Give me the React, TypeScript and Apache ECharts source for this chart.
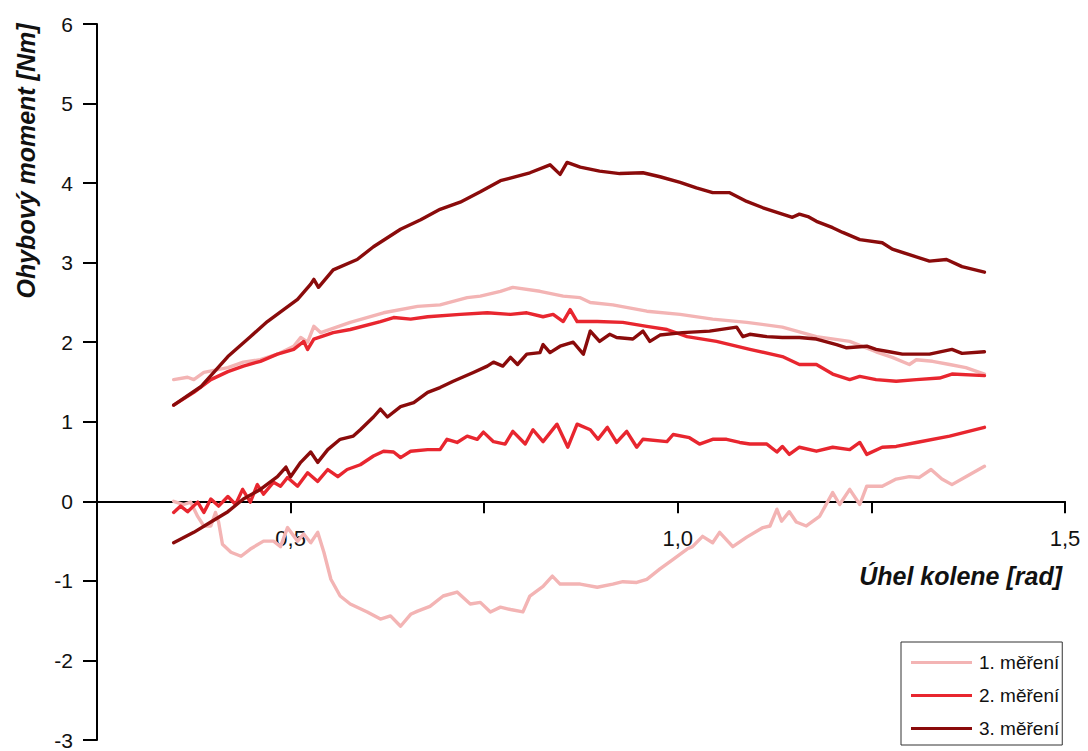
import React, { useEffect, useRef } from "react";
import * as echarts from "echarts";

// ---------- data ----------
const measurementNames = ["1. měření", "2. měření", "3. měření"];
const xLabelledTicks = [0.5, 1.0, 1.5];
const yTicks = [-3, -2, -1, 0, 1, 2, 3, 4, 5, 6];
const xAxisTitle = "Úhel kolene [rad]";
const yAxisTitle = "Ohybový moment [Nm]";

// 1. měření – upper branch
const m1Upper: number[][] = [
  [0.349, 1.53], [0.367, 1.56], [0.375, 1.53], [0.388, 1.62], [0.419, 1.68], [0.439, 1.75],
  [0.461, 1.78], [0.483, 1.85], [0.504, 1.95], [0.513, 2.06], [0.522, 2.0], [0.53, 2.2],
  [0.539, 2.12], [0.577, 2.25], [0.62, 2.37], [0.664, 2.45], [0.693, 2.47], [0.728, 2.56],
  [0.745, 2.58], [0.771, 2.64], [0.787, 2.69], [0.822, 2.64], [0.852, 2.58], [0.874, 2.56],
  [0.887, 2.5], [0.916, 2.47], [0.96, 2.39], [1.003, 2.35], [1.045, 2.29], [1.089, 2.25],
  [1.135, 2.19], [1.179, 2.07], [1.222, 2.01], [1.256, 1.88], [1.277, 1.81], [1.299, 1.72],
  [1.308, 1.78], [1.329, 1.76], [1.351, 1.72], [1.372, 1.68], [1.396, 1.6],
];
// 1. měření – lower branch
const m1Lower: number[][] = [
  [1.396, 0.44], [1.372, 0.31], [1.354, 0.21], [1.341, 0.28], [1.327, 0.4], [1.312, 0.3],
  [1.299, 0.31], [1.282, 0.28], [1.264, 0.19], [1.244, 0.19], [1.235, -0.04], [1.222, 0.15],
  [1.209, -0.04], [1.2, 0.11], [1.183, -0.19], [1.166, -0.31], [1.153, -0.26], [1.144, -0.13],
  [1.134, -0.25], [1.128, -0.1], [1.119, -0.31], [1.11, -0.33], [1.089, -0.45], [1.071, -0.57],
  [1.054, -0.39], [1.045, -0.52], [1.032, -0.44], [1.019, -0.57], [1.012, -0.6], [0.994, -0.73],
  [0.977, -0.85], [0.96, -0.98], [0.947, -1.02], [0.929, -1.01], [0.916, -1.04], [0.896, -1.08],
  [0.874, -1.04], [0.848, -1.04], [0.838, -0.94], [0.826, -1.07], [0.809, -1.19], [0.8, -1.39],
  [0.784, -1.36], [0.771, -1.33], [0.758, -1.39], [0.745, -1.27], [0.732, -1.29], [0.715, -1.14],
  [0.697, -1.19], [0.68, -1.32], [0.664, -1.38], [0.655, -1.42], [0.642, -1.57], [0.629, -1.44],
  [0.616, -1.48], [0.599, -1.39], [0.577, -1.29], [0.564, -1.19], [0.552, -0.98], [0.543, -0.64],
  [0.535, -0.39], [0.526, -0.52], [0.517, -0.41], [0.509, -0.5], [0.496, -0.33], [0.487, -0.57],
  [0.478, -0.5], [0.465, -0.5], [0.448, -0.6], [0.436, -0.69], [0.423, -0.64], [0.412, -0.54],
  [0.407, -0.26], [0.403, -0.14], [0.397, -0.31], [0.388, -0.31], [0.38, -0.19], [0.371, -0.01],
  [0.362, -0.04], [0.349, 0.0],
];

// 2. měření – upper branch
const m2Upper: number[][] = [
  [0.349, 1.21], [0.375, 1.37], [0.397, 1.53], [0.419, 1.63], [0.439, 1.7], [0.461, 1.76],
  [0.483, 1.85], [0.504, 1.91], [0.517, 2.01], [0.522, 1.91], [0.53, 2.04], [0.555, 2.12],
  [0.577, 2.16], [0.616, 2.26], [0.633, 2.31], [0.655, 2.29], [0.677, 2.32], [0.719, 2.35],
  [0.754, 2.37], [0.784, 2.35], [0.805, 2.37], [0.826, 2.32], [0.839, 2.35], [0.852, 2.26],
  [0.861, 2.41], [0.87, 2.26], [0.896, 2.26], [0.929, 2.25], [0.96, 2.2], [0.986, 2.16],
  [1.012, 2.07], [1.05, 2.01], [1.093, 1.91], [1.135, 1.82], [1.157, 1.72], [1.179, 1.72],
  [1.2, 1.6], [1.222, 1.53], [1.235, 1.57], [1.256, 1.53], [1.282, 1.51], [1.308, 1.53],
  [1.338, 1.55], [1.354, 1.6], [1.396, 1.58],
];
// 2. měření – lower branch
const m2Lower: number[][] = [
  [1.396, 0.93], [1.351, 0.82], [1.308, 0.74], [1.282, 0.69], [1.264, 0.68], [1.244, 0.59],
  [1.235, 0.74], [1.222, 0.65], [1.2, 0.68], [1.179, 0.63], [1.157, 0.68], [1.144, 0.59],
  [1.135, 0.69], [1.128, 0.62], [1.115, 0.72], [1.093, 0.72], [1.08, 0.74], [1.063, 0.78],
  [1.045, 0.78], [1.028, 0.72], [1.015, 0.8], [0.994, 0.84], [0.986, 0.75], [0.955, 0.78],
  [0.947, 0.68], [0.934, 0.88], [0.921, 0.74], [0.909, 0.93], [0.897, 0.78], [0.887, 0.9],
  [0.87, 0.97], [0.858, 0.68], [0.844, 0.97], [0.826, 0.75], [0.813, 0.9], [0.803, 0.72],
  [0.787, 0.88], [0.777, 0.72], [0.762, 0.75], [0.749, 0.87], [0.741, 0.78], [0.728, 0.82],
  [0.715, 0.74], [0.702, 0.78], [0.693, 0.65], [0.677, 0.65], [0.655, 0.63], [0.642, 0.55],
  [0.633, 0.62], [0.62, 0.63], [0.607, 0.57], [0.59, 0.46], [0.573, 0.4], [0.561, 0.31],
  [0.548, 0.4], [0.535, 0.25], [0.522, 0.36], [0.509, 0.19], [0.496, 0.3], [0.487, 0.19],
  [0.478, 0.24], [0.465, 0.09], [0.457, 0.21], [0.448, -0.01], [0.438, 0.15], [0.429, -0.04],
  [0.419, 0.06], [0.407, -0.06], [0.397, 0.03], [0.388, -0.14], [0.38, -0.01], [0.367, -0.13],
  [0.358, -0.06], [0.349, -0.14],
];

// 3. měření – upper branch
const m3Upper: number[][] = [
  [0.349, 1.21], [0.384, 1.44], [0.419, 1.82], [0.448, 2.07], [0.47, 2.26], [0.491, 2.41],
  [0.509, 2.54], [0.526, 2.73], [0.53, 2.79], [0.536, 2.69], [0.555, 2.91], [0.586, 3.04],
  [0.607, 3.2], [0.642, 3.42], [0.668, 3.54], [0.693, 3.67], [0.719, 3.76], [0.745, 3.89],
  [0.771, 4.03], [0.809, 4.13], [0.835, 4.23], [0.848, 4.11], [0.857, 4.26], [0.874, 4.2],
  [0.899, 4.15], [0.925, 4.12], [0.955, 4.13], [0.977, 4.08], [1.003, 4.01], [1.024, 3.94],
  [1.045, 3.88], [1.067, 3.88], [1.089, 3.77], [1.11, 3.69], [1.135, 3.61], [1.148, 3.57],
  [1.157, 3.61], [1.168, 3.58], [1.179, 3.52], [1.2, 3.44], [1.213, 3.38], [1.235, 3.29],
  [1.264, 3.25], [1.277, 3.17], [1.299, 3.1], [1.325, 3.02], [1.347, 3.04], [1.367, 2.95],
  [1.396, 2.88],
];
// 3. měření – lower branch
const m3Lower: number[][] = [
  [1.396, 1.88], [1.367, 1.86], [1.354, 1.91], [1.325, 1.85], [1.29, 1.85], [1.273, 1.88],
  [1.256, 1.91], [1.244, 1.95], [1.218, 1.93], [1.205, 1.97], [1.179, 2.04], [1.157, 2.06],
  [1.135, 2.06], [1.115, 2.07], [1.093, 2.1], [1.084, 2.07], [1.076, 2.19], [1.041, 2.14],
  [1.006, 2.12], [0.977, 2.09], [0.964, 2.01], [0.955, 2.14], [0.942, 2.04], [0.921, 2.06],
  [0.912, 2.1], [0.899, 2.01], [0.887, 2.14], [0.878, 1.85], [0.865, 2.0], [0.848, 1.95],
  [0.835, 1.87], [0.826, 1.97], [0.822, 1.87], [0.805, 1.85], [0.793, 1.72], [0.784, 1.81],
  [0.774, 1.7], [0.762, 1.75], [0.754, 1.7], [0.736, 1.62], [0.71, 1.51], [0.693, 1.43],
  [0.677, 1.37], [0.659, 1.24], [0.642, 1.19], [0.625, 1.06], [0.616, 1.16], [0.607, 1.06],
  [0.59, 0.9], [0.581, 0.82], [0.564, 0.78], [0.548, 0.65], [0.535, 0.49], [0.526, 0.62],
  [0.513, 0.49], [0.5, 0.31], [0.494, 0.43], [0.483, 0.31], [0.461, 0.15], [0.439, 0.03],
  [0.419, -0.13], [0.397, -0.26], [0.375, -0.39], [0.349, -0.52],
];

const branches = [
  { name: measurementNames[0], upper: m1Upper, lower: m1Lower },
  { name: measurementNames[1], upper: m2Upper, lower: m2Lower },
  { name: measurementNames[2], upper: m3Upper, lower: m3Lower },
];

const COLORS = ["#f3b4b4", "#e8262f", "#8a0b0b"];
const FONT = '"Liberation Sans", Arial, Helvetica, sans-serif';

// layout of the plotting area (pixels)
const GRID_TOP = 24;
const GRID_BOTTOM = 11;
const CHART_H = 751;

export default function App() {
  const ref = useRef<HTMLDivElement>(null);

  useEffect(() => {
    if (!ref.current) return;
    document.body.style.margin = "0";
    const chart = echarts.init(ref.current, undefined, { renderer: "svg" });

    const series: any[] = [];
    branches.forEach((b, i) => {
      [b.upper, b.lower].forEach((data) => {
        series.push({
          type: "line",
          name: b.name,
          data,
          symbol: "none",
          showSymbol: false,
          smooth: false,
          color: COLORS[i],
          lineStyle: { color: COLORS[i], width: 3.4, join: "round", cap: "round" },
          itemStyle: { color: COLORS[i] },
          z: 2 + i,
        });
      });
    });

    // distance from the bottom of the grid up to the value 0 of the y axis
    const yMin = yTicks[0];
    const yMax = yTicks[yTicks.length - 1];
    const plotH = CHART_H - GRID_TOP - GRID_BOTTOM;
    const zeroLift = (plotH * (0 - yMin)) / (yMax - yMin);

    chart.setOption({
      animation: false,
      backgroundColor: "#ffffff",
      textStyle: { fontFamily: FONT },
      grid: {
        left: 97,
        right: 23,
        top: GRID_TOP,
        bottom: GRID_BOTTOM,
        containLabel: false,
        outerBoundsMode: "none",
      },
      xAxis: {
        type: "value",
        min: 0.25,
        max: 1.5,
        interval: 0.25,
        offset: -zeroLift,
        axisLine: { show: true, onZero: false, lineStyle: { color: "#000", width: 2 } },
        axisTick: { show: true, inside: false, length: 12, lineStyle: { color: "#000", width: 2 } },
        splitLine: { show: false },
        axisLabel: {
          show: true,
          margin: 26,
          fontSize: 22,
          color: "#111",
          fontFamily: FONT,
          showMinLabel: true,
          showMaxLabel: true,
          hideOverlap: false,
          formatter: (v: number) => {
            const hit = xLabelledTicks.find((t) => Math.abs(t - v) < 1e-6);
            return hit === undefined ? "" : hit.toFixed(1).replace(".", ",");
          },
        },
      },
      yAxis: {
        type: "value",
        min: yMin,
        max: yMax,
        interval: 1,
        axisLine: { show: true, onZero: false, lineStyle: { color: "#000", width: 2 } },
        axisTick: { show: true, inside: false, length: 14, lineStyle: { color: "#000", width: 2 } },
        splitLine: { show: false },
        axisLabel: { margin: 24, fontSize: 21, color: "#111", fontFamily: FONT },
      },
      legend: {
        show: true,
        orient: "vertical",
        left: 901,
        top: 642,
        data: measurementNames,
        icon: "rect",
        padding: [11, 3, 7, 10],
        itemWidth: 61,
        itemHeight: 3,
        itemGap: 14,
        borderColor: "#333",
        borderWidth: 1,
        borderRadius: 0,
        backgroundColor: "#fff",
        textStyle: { fontSize: 19, color: "#111", fontFamily: FONT, padding: [0, 0, 0, 2] },
        selectedMode: false,
      },
      graphic: [
        {
          type: "text",
          x: 26,
          y: 161,
          rotation: Math.PI / 2,
          style: {
            text: yAxisTitle,
            font: `italic bold 25px ${FONT}`,
            fill: "#111",
            textAlign: "center",
            textVerticalAlign: "middle",
            align: "center",
            verticalAlign: "middle",
          },
        },
        {
          type: "text",
          x: 1062,
          y: 576,
          style: {
            text: xAxisTitle,
            font: `italic bold 25px ${FONT}`,
            fill: "#111",
            textAlign: "right",
            textVerticalAlign: "middle",
            align: "right",
            verticalAlign: "middle",
          },
        },
      ],
      series,
    });

    return () => chart.dispose();
  }, []);

  return (
    <div
      ref={ref}
      style={{ position: "fixed", left: 0, top: 0, width: 1088, height: CHART_H, background: "#fff" }}
    />
  );
}
